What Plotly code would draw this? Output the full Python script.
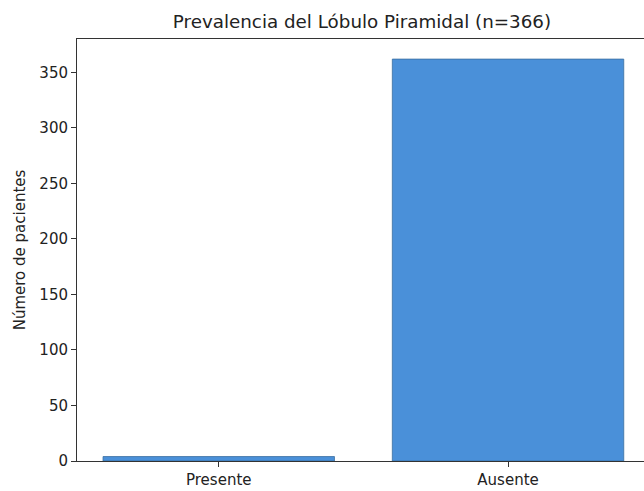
import plotly.graph_objects as go

categories = ["Presente", "Ausente"]
values = [4, 362]
y_ticks = [0, 50, 100, 150, 200, 250, 300, 350]

fig = go.Figure()
fig.add_trace(go.Bar(
    x=[0, 1], y=values, width=0.8,
    marker=dict(color="#4a90d9", line=dict(color="#3a6f9f", width=0.8)),
))

font = "DejaVu Sans"
fig.update_layout(
    width=644, height=491,
    margin=dict(l=77, r=0, t=39, b=30, autoexpand=False),
    paper_bgcolor="white", plot_bgcolor="white",
    showlegend=False,
    title=dict(text="Prevalencia del Lóbulo Piramidal (n=366)", x=362 / 644, xanchor="center",
               xref="container", y=1 - 22 / 491, yanchor="middle", yref="container",
               font=dict(family=font, size=18.3, color="#222")),
    font=dict(family=font, size=15, color="#222"),
)
fig.update_xaxes(
    range=[-0.49, 1.47], tickmode="array", tickvals=[0, 1], ticktext=categories,
    showgrid=False, zeroline=False, showline=True, linecolor="#333", linewidth=1,
    mirror=True, ticks="outside", ticklen=5, tickcolor="#333", automargin=False,
    tickfont=dict(family=font, size=15, color="#222"),
)
fig.update_yaxes(
    range=[0, 380.1], tickmode="array", tickvals=y_ticks,
    showgrid=False, zeroline=False, showline=True, linecolor="#333", linewidth=1,
    ticks="outside", ticklen=5, tickcolor="#333", automargin=False,
    tickfont=dict(family=font, size=15, color="#222"),
    title=dict(text="Número de pacientes", font=dict(family=font, size=15, color="#222"), standoff=10),
)
fig.write_html("out.html", config={"displayModeBar": False},
               post_script="document.body.style.margin='0';document.body.style.overflow='hidden';")
